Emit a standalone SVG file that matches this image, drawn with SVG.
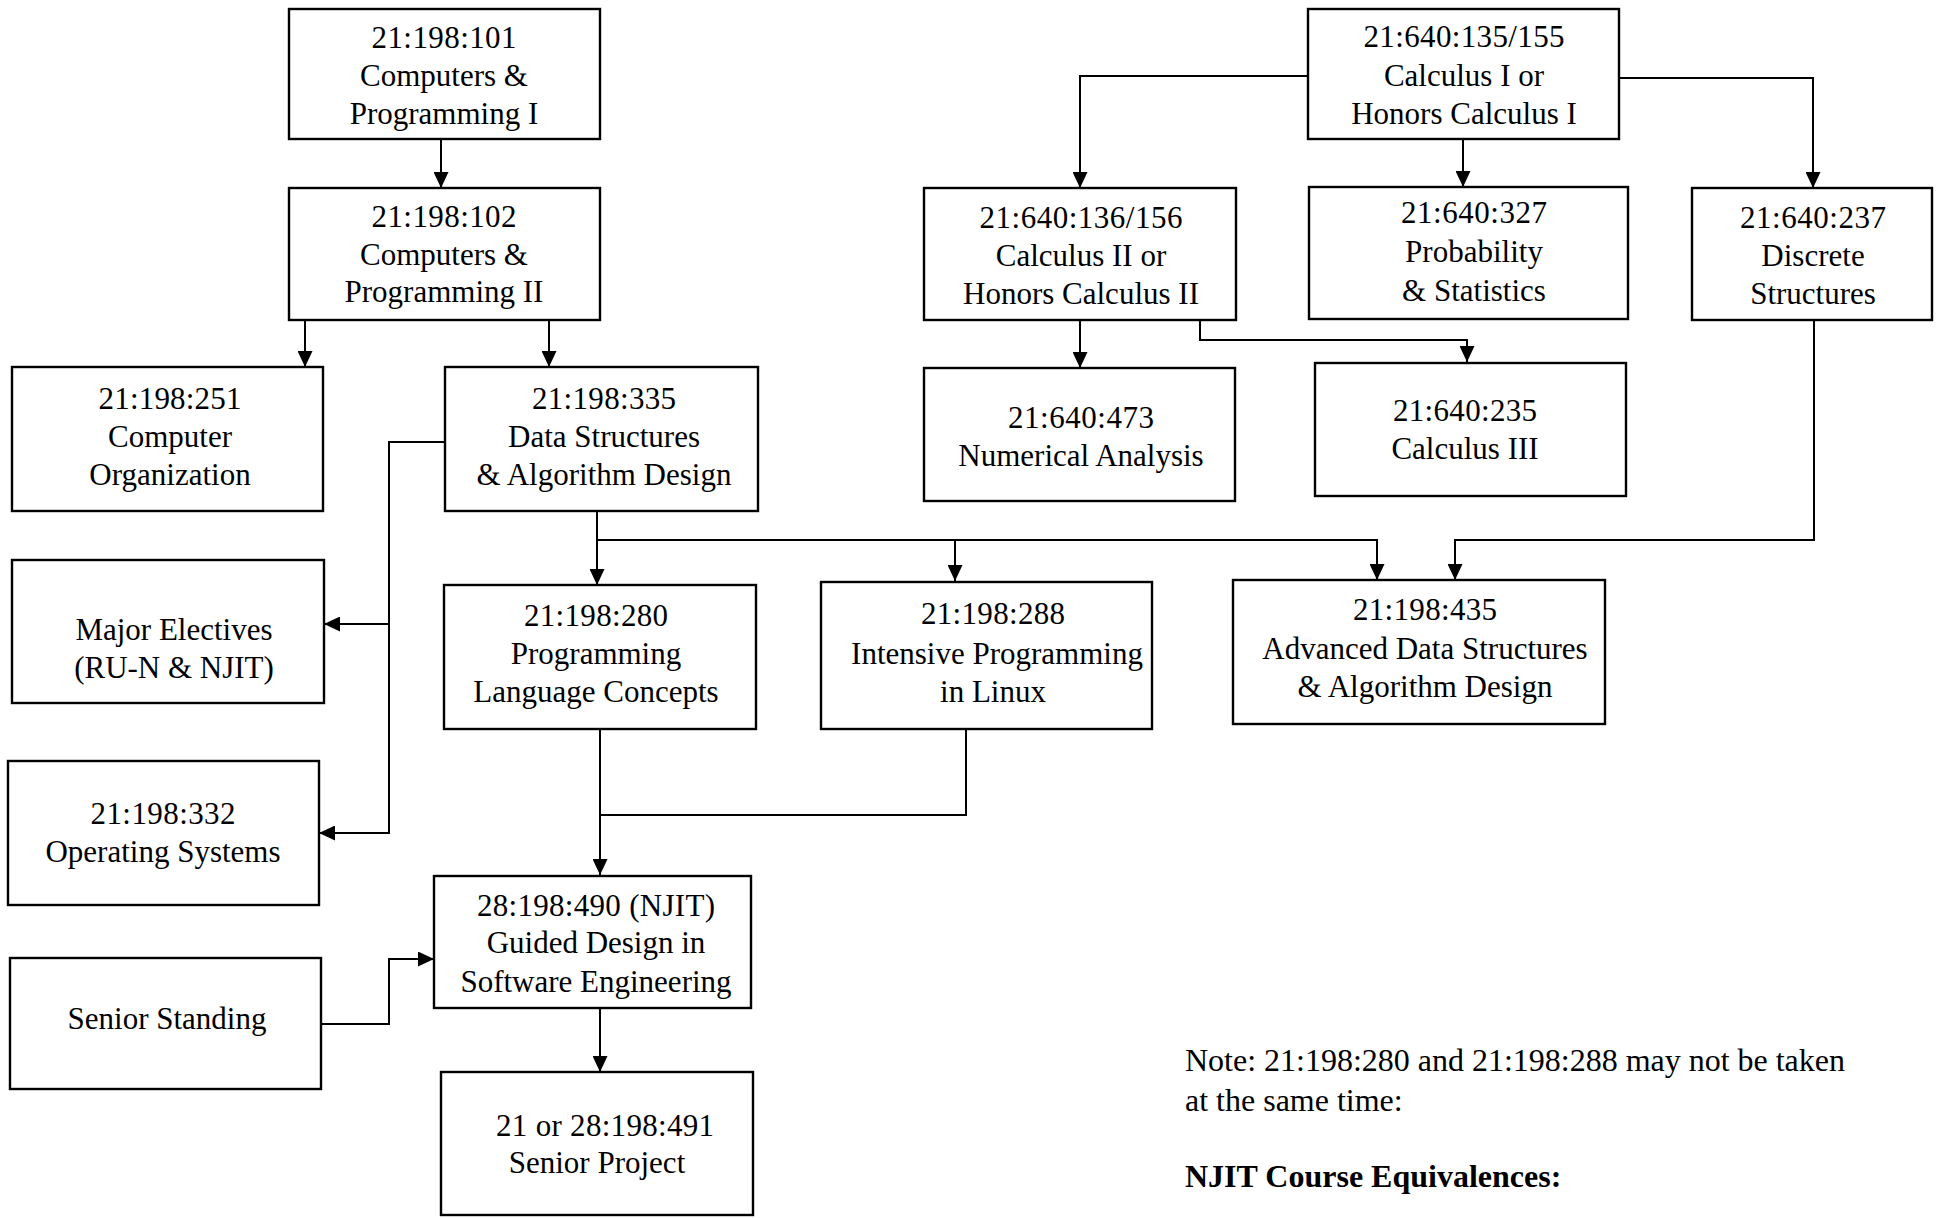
<svg xmlns="http://www.w3.org/2000/svg" width="1944" height="1218" viewBox="0 0 1944 1218">
<style>
.box{fill:#fff;stroke:#000;stroke-width:2.4}
.t{font-family:"Liberation Serif","Times New Roman",serif;font-size:31px;fill:#000;text-anchor:middle}
.c{fill:none;stroke:#000;stroke-width:2}
.n{font-family:"Liberation Serif","Times New Roman",serif;font-size:32px;fill:#000}
</style>
<defs>
<marker id="ah" markerUnits="userSpaceOnUse" markerWidth="16" markerHeight="15" refX="16" refY="7.5" orient="auto">
<path d="M0,0 L16,7.5 L0,15 z" fill="#000"/>
</marker>
</defs>
<rect width="1944" height="1218" fill="#fff"/>

<g id="connectors">
<path class="c" d="M441,139 V188" marker-end="url(#ah)"/>
<path class="c" d="M305,320 V367" marker-end="url(#ah)"/>
<path class="c" d="M549,320 V367" marker-end="url(#ah)"/>
<path class="c" d="M445,442 H389 V833 H319" marker-end="url(#ah)"/>
<path class="c" d="M389,624 H324" marker-end="url(#ah)"/>
<path class="c" d="M597,511 V585" marker-end="url(#ah)"/>
<path class="c" d="M597,540 H1377 V580" marker-end="url(#ah)"/>
<path class="c" d="M955,540 V581" marker-end="url(#ah)"/>
<path class="c" d="M1814,320 V540 H1455 V580" marker-end="url(#ah)"/>
<path class="c" d="M600,729 V875" marker-end="url(#ah)"/>
<path class="c" d="M966,729 V815 H600"/>
<path class="c" d="M321,1024 H389 V959 H434" marker-end="url(#ah)"/>
<path class="c" d="M600,1008 V1072" marker-end="url(#ah)"/>
<path class="c" d="M1308,76 H1080 V188" marker-end="url(#ah)"/>
<path class="c" d="M1619,78 H1813 V188" marker-end="url(#ah)"/>
<path class="c" d="M1463,139 V187" marker-end="url(#ah)"/>
<path class="c" d="M1080,320 V368" marker-end="url(#ah)"/>
<path class="c" d="M1200,320 V340 H1467 V362" marker-end="url(#ah)"/>
</g>

<g id="n101"><rect class="box" x="289" y="9" width="311" height="130"/>
<text class="t" x="444" y="48" textLength="145" lengthAdjust="spacing">21:198:101</text>
<text class="t" x="444" y="86">Computers &amp;</text>
<text class="t" x="444" y="124">Programming I</text></g>

<g id="n102"><rect class="box" x="289" y="188" width="311" height="132"/>
<text class="t" x="444" y="227" textLength="145" lengthAdjust="spacing">21:198:102</text>
<text class="t" x="444" y="265">Computers &amp;</text>
<text class="t" x="444" y="302">Programming II</text></g>

<g id="n251"><rect class="box" x="12" y="367" width="311" height="144"/>
<text class="t" x="170" y="409" textLength="143" lengthAdjust="spacing">21:198:251</text>
<text class="t" x="170" y="447">Computer</text>
<text class="t" x="170" y="485">Organization</text></g>

<g id="n335"><rect class="box" x="445" y="367" width="313" height="144"/>
<text class="t" x="604" y="409" textLength="144" lengthAdjust="spacing">21:198:335</text>
<text class="t" x="604" y="447">Data Structures</text>
<text class="t" x="604" y="485">&amp; Algorithm Design</text></g>

<g id="nelectives"><rect class="box" x="12" y="560" width="312" height="143"/>
<text class="t" x="174" y="640">Major Electives</text>
<text class="t" x="174" y="678">(RU-N &amp; NJIT)</text></g>

<g id="n332"><rect class="box" x="8" y="761" width="311" height="144"/>
<text class="t" x="163" y="824" textLength="145" lengthAdjust="spacing">21:198:332</text>
<text class="t" x="163" y="862">Operating Systems</text></g>

<g id="nsenior"><rect class="box" x="10" y="958" width="311" height="131"/>
<text class="t" x="167" y="1029">Senior Standing</text></g>

<g id="n280"><rect class="box" x="444" y="585" width="312" height="144"/>
<text class="t" x="596" y="626" textLength="144" lengthAdjust="spacing">21:198:280</text>
<text class="t" x="596" y="664">Programming</text>
<text class="t" x="596" y="702">Language Concepts</text></g>

<g id="n288"><rect class="box" x="821" y="582" width="331" height="147"/>
<text class="t" x="993" y="624" textLength="144" lengthAdjust="spacing">21:198:288</text>
<text class="t" x="997" y="664">Intensive Programming</text>
<text class="t" x="993" y="702">in Linux</text></g>

<g id="n435"><rect class="box" x="1233" y="580" width="372" height="144"/>
<text class="t" x="1425" y="620" textLength="144" lengthAdjust="spacing">21:198:435</text>
<text class="t" x="1425" y="659">Advanced Data Structures</text>
<text class="t" x="1425" y="697">&amp; Algorithm Design</text></g>

<g id="n490"><rect class="box" x="434" y="876" width="317" height="132"/>
<text class="t" x="596" y="916" textLength="238" lengthAdjust="spacing">28:198:490 (NJIT)</text>
<text class="t" x="596" y="953">Guided Design in</text>
<text class="t" x="596" y="992">Software Engineering</text></g>

<g id="n491"><rect class="box" x="441" y="1072" width="312" height="143"/>
<text class="t" x="605" y="1136" textLength="218" lengthAdjust="spacing">21 or 28:198:491</text>
<text class="t" x="597" y="1173">Senior Project</text></g>

<g id="n135"><rect class="box" x="1308" y="9" width="311" height="130"/>
<text class="t" x="1464" y="47" textLength="201" lengthAdjust="spacing">21:640:135/155</text>
<text class="t" x="1464" y="86">Calculus I or</text>
<text class="t" x="1464" y="124">Honors Calculus I</text></g>

<g id="n136"><rect class="box" x="924" y="188" width="312" height="132"/>
<text class="t" x="1081" y="228" textLength="203" lengthAdjust="spacing">21:640:136/156</text>
<text class="t" x="1081" y="266">Calculus II or</text>
<text class="t" x="1081" y="304">Honors Calculus II</text></g>

<g id="n327"><rect class="box" x="1309" y="187" width="319" height="132"/>
<text class="t" x="1474" y="223" textLength="146" lengthAdjust="spacing">21:640:327</text>
<text class="t" x="1474" y="262">Probability</text>
<text class="t" x="1474" y="301">&amp; Statistics</text></g>

<g id="n237"><rect class="box" x="1692" y="188" width="240" height="132"/>
<text class="t" x="1813" y="228" textLength="146" lengthAdjust="spacing">21:640:237</text>
<text class="t" x="1813" y="266">Discrete</text>
<text class="t" x="1813" y="304">Structures</text></g>

<g id="n473"><rect class="box" x="924" y="368" width="311" height="133"/>
<text class="t" x="1081" y="428" textLength="146" lengthAdjust="spacing">21:640:473</text>
<text class="t" x="1081" y="466">Numerical Analysis</text></g>

<g id="n235"><rect class="box" x="1315" y="363" width="311" height="133"/>
<text class="t" x="1465" y="421" textLength="144" lengthAdjust="spacing">21:640:235</text>
<text class="t" x="1465" y="459">Calculus III</text></g>

<g id="note">
<text class="n" x="1185" y="1071" textLength="660" lengthAdjust="spacing">Note: 21:198:280 and 21:198:288 may not be taken</text>
<text class="n" x="1185" y="1111">at the same time:</text>
<text class="n" x="1185" y="1187" font-weight="bold">NJIT Course Equivalences:</text>
</g>
</svg>
